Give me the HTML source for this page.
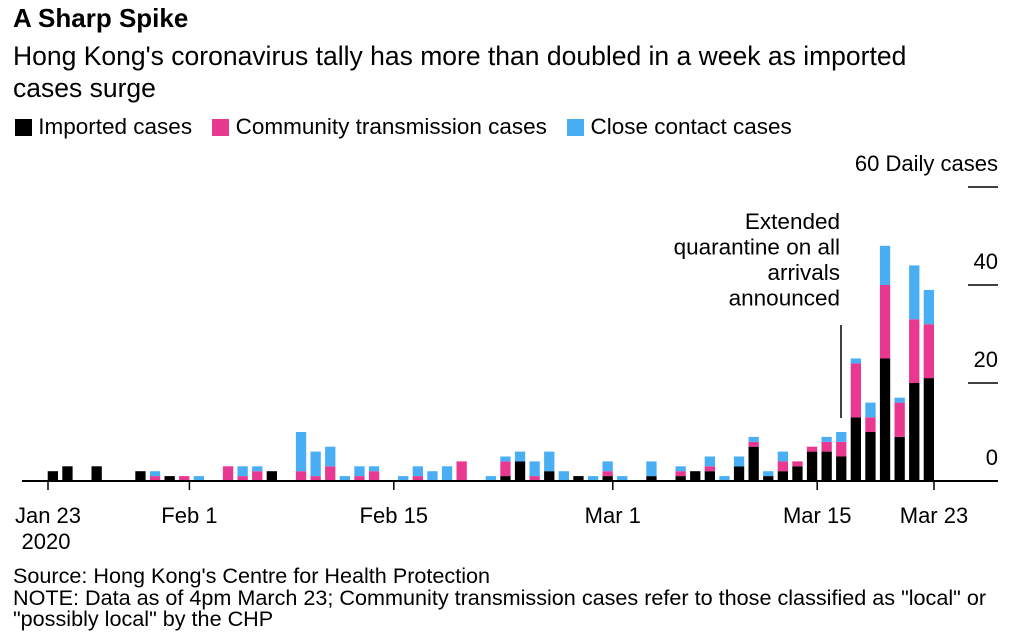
<!DOCTYPE html>
<html><head><meta charset="utf-8">
<style>
body{margin:0;background:#fff;width:1018px;height:636px;overflow:hidden;font-family:"Liberation Sans",sans-serif;color:#000}
.t{position:absolute;white-space:nowrap}
</style></head><body>
<div class="t" style="left:13px;top:3px;font-size:26px;font-weight:bold">A Sharp Spike</div>
<div class="t" style="left:13px;top:40px;font-size:26.5px;line-height:32px;white-space:normal;width:955px">Hong Kong's coronavirus tally has more than doubled in a week as imported cases surge</div>
<div class="t" style="left:15px;top:114px;font-size:22.5px">
<span><span style="display:inline-block;width:17px;height:17px;background:#000;vertical-align:-2px"></span> Imported cases</span>
<span style="margin-left:14px"><span style="display:inline-block;width:17px;height:17px;background:#e8388f;vertical-align:-2px"></span> Community transmission cases</span>
<span style="margin-left:14px"><span style="display:inline-block;width:17px;height:17px;background:#4aaef5;vertical-align:-2px"></span> Close contact cases</span>
</div>
<svg id="chart" width="1018" height="636" style="position:absolute;left:0;top:0" font-family="Liberation Sans, sans-serif"></svg>
<div class="t" style="left:13px;top:565px;font-size:21.6px;line-height:21.5px">Source: Hong Kong's Centre for Health Protection<br>NOTE: Data as of 4pm March 23; Community transmission cases refer to those classified as "local" or<br>"possibly local" by the CHP</div>
<script>
const days = [0,1,3,6,7,8,9,10,12,13,14,15,17,18,19,20,21,22,24,25,26,27,28,30,31,32,33,34,35,36,37,38,39,41,43,44,45,46,47,48,49,50,51,52,53,54,55,56,57,58,59,60];
const imported = [2,3,3,2,0,1,0,0,0,0,0,2,0,0,0,0,0,0,0,0,0,0,0,0,1,4,0,2,0,1,0,1,0,1,1,2,2,0,3,7,1,2,3,6,6,5,13,10,25,9,20,21];
const community = [0,0,0,0,1,0,1,0,3,1,2,0,2,1,3,0,1,2,0,1,0,0,4,0,3,0,1,0,0,0,0,1,0,0,1,0,1,0,0,1,0,2,1,1,2,3,11,3,15,7,13,11];
const closeContact = [0,0,0,0,1,0,0,1,0,2,1,0,8,5,4,1,2,1,1,2,2,3,0,1,1,2,3,4,2,0,1,2,1,3,1,0,2,1,2,1,1,2,0,0,1,2,1,3,8,1,11,7];
const yTicks = [0,20,40,60];
const xTickDays = [0,9,23,38,52,60];
const xTickLabels = ["Jan 23","Feb 1","Feb 15","Mar 1","Mar 15","Mar 23"];

const svg = document.getElementById('chart');
const NS = 'http://www.w3.org/2000/svg';
const y0 = 481, pxPerUnit = 4.9;
const y = v => y0 - v*pxPerUnit;
const x = d => 47.7 + d*14.6;   // bar left
const bw = 10.3;
function mk(tag, attrs){const e=document.createElementNS(NS,tag);for(const k in attrs)e.setAttribute(k,attrs[k]);svg.appendChild(e);return e;}

days.forEach((d,i)=>{
  let base=0;
  [[imported,'#000','imported'],[community,'#e8388f','community'],[closeContact,'#4aaef5','close-contact']].forEach(([arr,c,n])=>{
    const v=arr[i]; if(!v) return;
    const r=mk('rect',{x:x(d),y:y(base+v),width:bw,height:v*pxPerUnit,fill:c});
    
    
    base+=v;
  });
});

const ax=mk('line',{x1:22,x2:998,y1:y0,y2:y0,stroke:'#000','stroke-width':2});



xTickDays.forEach((d,i)=>{
  const tx = d===0 ? 48 : x(d)+10.3;
  const tk=mk('line',{x1:tx,x2:tx,y1:y0,y2:y0+9,stroke:'#000','stroke-width':1.5});
  
  
  const t=mk('text',{x:tx,y:523,'font-size':22,'text-anchor':'middle'});
  t.textContent=xTickLabels[i];
  
  
});
const yr=mk('text',{x:46,y:549,'font-size':22,'text-anchor':'middle'});
yr.textContent='2020';



yTicks.forEach(v=>{
  if(v>0){
    const g=mk('line',{x1:968,x2:998,y1:y(v),y2:y(v),stroke:'#000','stroke-width':1.5});
    
    
  }
  const t=mk('text',{x:998,y:y(v)-16,'font-size':22,'text-anchor':'end'});
  t.textContent = v===60 ? '60 Daily cases' : String(v);
  
  
});

const ann=['Extended','quarantine on all','arrivals','announced'];
ann.forEach((s,i)=>{
  const t=mk('text',{x:840,y:229+i*25.5,'font-size':22.5,'text-anchor':'end'});
  t.textContent=s;
  
  
});
const al=mk('line',{x1:841,x2:841,y1:325,y2:418,stroke:'#000','stroke-width':1.5});


</script>
</body></html>
